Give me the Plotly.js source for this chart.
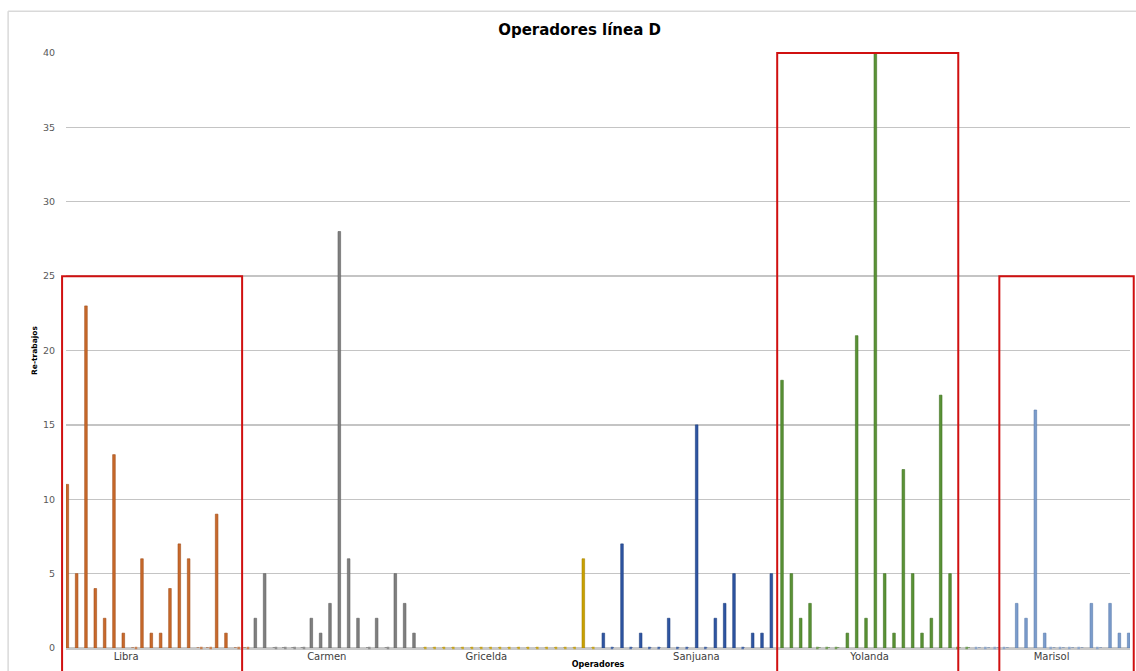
<!DOCTYPE html>
<html>
<head>
<meta charset="utf-8">
<script src="https://cdn.plot.ly/plotly-3.0.1.min.js"></script>
<style>html,body{margin:0;padding:0;background:#fff;}#chart{width:1136px;height:671px;}</style>
</head>
<body>
<div id="chart"></div>
<script>
// ---- data ----
const operators = ["Libra", "Carmen", "Gricelda", "Sanjuana", "Yolanda", "Marisol"];
const groupStart = [0, 20, 38, 57, 76, 97];
const libra    = [11,5,23,4,2,13,1,0,6,1,1,4,7,6,0,0,9,1,0,0];
const carmen   = [2,5,0,0,0,0,2,1,3,28,6,2,0,2,0,5,3,1];
const gricelda = [0,0,0,0,0,0,0,0,0,0,0,0,0,0,0,0,0,6,0];
const sanjuana = [1,0,7,0,1,0,0,2,0,0,15,0,2,3,5,0,1,1,5];
const yolanda  = [18,5,2,3,0,0,0,1,21,2,40,5,1,12,5,1,2,17,5,0,0];
const marisol  = [0,0,0,0,3,2,16,1,0,0,0,0,3,0,3,1,1];
const labelPos = [5.94, 27.44, 44.54, 67.04, 85.6, 105.1];
const yTicks   = [0,5,10,15,20,25,30,35,40];
const highlighted = [ {from:-0.92, to:18.37, top:25}, {from:75.7, to:95.1, top:40}, {from:99.5, to:113.9, top:25} ];

// ---- styles ----
const colors = ["#c8692c", "#7f7f7f", "#c9a000", "#2f55a2", "#5a9236", "#7b9ccc"];
const lines  = ["#a34f1a", "#5f5f5f", "#a88400", "#1f3f80", "#3f7222", "#5b7cac"];
const series = [libra, carmen, gricelda, sanjuana, yolanda, marisol];
const N = 114;
const barW = 0.28;

const traces = [];
// zero-value specks on the baseline
series.forEach((vals, k) => {
  const xs = [], ys = [];
  vals.forEach((v, i) => { if (v === 0) { xs.push(groupStart[k] + i); ys.push(v); } });
  traces.push({
    type: 'scatter', mode: 'markers', x: xs, y: ys, cliponaxis: false,
    marker: {symbol: 'square', size: 2.5, color: colors[k], opacity: 0.75},
    hoverinfo: 'skip'
  });
});
series.forEach((vals, k) => {
  traces.push({
    type: 'bar',
    name: operators[k],
    x: vals.map((_, i) => groupStart[k] + i),
    y: vals,
    width: barW,
    offset: -0.36 + 0.144 * k - barW / 2,
    marker: {color: colors[k], line: {color: lines[k], width: 0.6}},
    hoverinfo: 'x+y'
  });
});

const toPaperX = s => (s + 0.5) / N;
const toPaperY = v => v / 40;
const shapes = highlighted.map(h => ({
  type: 'rect', xref: 'paper', yref: 'paper',
  x0: toPaperX(h.from), x1: toPaperX(h.to),
  y0: -0.08, y1: toPaperY(h.top),
  line: {color: '#d01010', width: 2}, fillcolor: 'rgba(0,0,0,0)', layer: 'above'
}));
// chart frame
shapes.push({type:'line', xref:'paper', yref:'paper', x0:-0.0544, x1:-0.0544, y0:-0.1, y1:1.07, line:{color:'#d9d9d9', width:1.5}, layer:'below'});
shapes.push({type:'line', xref:'paper', yref:'paper', x0:-0.0544, x1:1.1, y0:1.07, y1:1.07, line:{color:'#d9d9d9', width:1.5}, layer:'below'});

const layout = {
  width: 1136, height: 671,
  margin: {l: 66, r: 6, t: 53, b: 23},
  paper_bgcolor: '#ffffff', plot_bgcolor: '#ffffff',
  showlegend: false,
  barmode: 'overlay',
  title: {
    text: '<b>Operadores línea D</b>',
    font: {family: 'DejaVu Sans', size: 15, color: '#000'},
    x: 0.4827, xref: 'paper', xanchor: 'center',
    y: 0.955, yref: 'container', yanchor: 'middle'
  },
  xaxis: {
    range: [-0.5, N - 0.5],
    tickvals: labelPos, ticktext: operators,
    tickfont: {family: 'DejaVu Sans', size: 10, color: '#404040'},
    ticks: '', showgrid: false, zeroline: false, showline: false,
    ticklabelstandoff: 1,
    title: {text: '<b>Operadores</b>', font: {family: 'DejaVu Sans', size: 8, color: '#000'}, standoff: 0}
  },
  yaxis: {
    range: [0, 40],
    tickvals: yTicks,
    tickfont: {family: 'DejaVu Sans', size: 9.5, color: '#595959'},
    ticks: '', showline: false,
    showgrid: true, gridcolor: '#c4c4c4', gridwidth: 1.3,
    zeroline: true, zerolinecolor: '#c8c8c8', zerolinewidth: 3,
    ticklabelstandoff: 10,
    title: {text: '<b>Re-trabajos</b>', font: {family: 'DejaVu Sans', size: 7.5, color: '#000'}, standoff: 4}
  },
  shapes: shapes
};

Plotly.newPlot('chart', traces, layout, {displayModeBar: false, staticPlot: true});
</script>
</body>
</html>
